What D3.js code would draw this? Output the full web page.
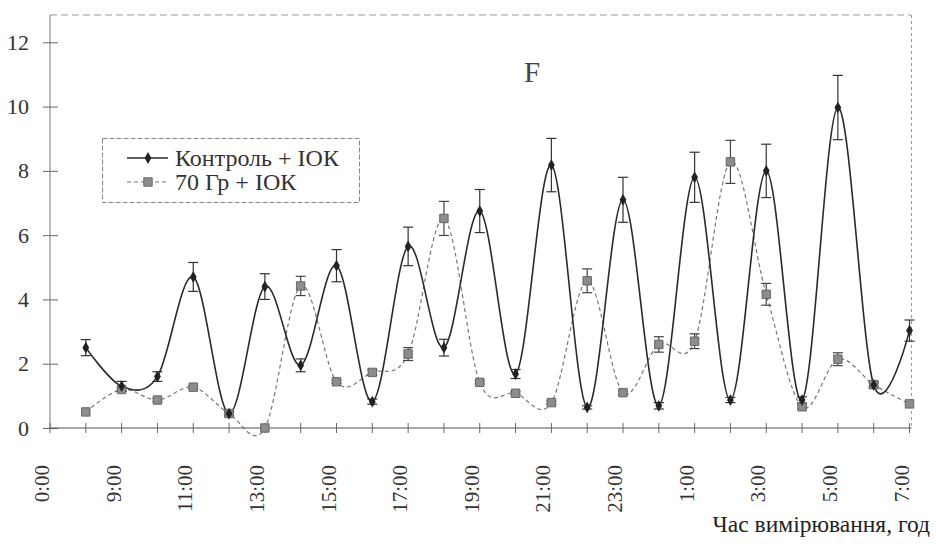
<!DOCTYPE html>
<html>
<head>
<meta charset="utf-8">
<script src="https://cdn.jsdelivr.net/npm/d3@7"></script>
<style>
  body { margin: 0; background: #fff; }
</style>
</head>
<body>
<svg width="936" height="549"></svg>
<script>
// category slots along the x axis (first slot is the empty "0:00" one)
var slots = ['0:00', '8:00', '9:00', '10:00', '11:00', '12:00', '13:00', '14:00', '15:00',
  '16:00', '17:00', '18:00', '19:00', '20:00', '21:00', '22:00', '23:00', '0:00 ',
  '1:00', '2:00', '3:00', '4:00', '5:00', '6:00', '7:00']
var hours = slots.slice(1)

// labels shown under every second slot
var tickLabels = ['0:00', '9:00', '11:00', '13:00', '15:00', '17:00', '19:00', '21:00',
  '23:00', '1:00', '3:00', '5:00', '7:00']

var yTicks = [0, 2, 4, 6, 8, 10, 12]

// Контроль + ІОК
var controlVals = [2.5, 1.3, 1.6, 4.7, 0.45, 4.4, 1.95, 5.05, 0.82, 5.65, 2.5, 6.75,
  1.68, 8.18, 0.64, 7.1, 0.69, 7.8, 0.87, 8.0, 0.87, 9.97, 1.34, 3.03]
var controlErr = [0.25, 0.15, 0.15, 0.45, 0.08, 0.4, 0.2, 0.5, 0.08, 0.6, 0.26, 0.67,
  0.14, 0.83, 0.05, 0.7, 0.1, 0.78, 0.08, 0.83, 0.1, 1.0, 0.1, 0.33]

// 70 Гр + ІОК
var irradVals = [0.5, 1.2, 0.87, 1.27, 0.45, 0, 4.42, 1.44, 1.73, 2.3, 6.52, 1.42,
  1.08, 0.79, 4.58, 1.1, 2.6, 2.7, 8.28, 4.16, 0.66, 2.14, 1.35, 0.75]
var irradErr = [0, 0.05, 0.05, 0.05, 0.05, 0, 0.3, 0.05, 0.08, 0.2, 0.53, 0.05,
  0.05, 0.05, 0.37, 0.05, 0.24, 0.23, 0.67, 0.34, 0.05, 0.2, 0.05, 0]

var seriesNames = ['Контроль + ІОК', '70 Гр + ІОК']

var serif = '"Liberation Serif", "Times New Roman", serif'

var svg = d3.select('svg').style('font-family', serif)

var x = d3.scalePoint().domain(slots).range([50, 909.5])
var y = d3.scaleLinear().domain([0, 12]).range([428, 42.3])
var yTop = 12.85

var series = [
  { name: seriesNames[0], vals: controlVals, err: controlErr },
  { name: seriesNames[1], vals: irradVals, err: irradErr }
]
series.forEach(function (s) {
  s.points = hours.map(function (h, i) { return { h: h, v: s.vals[i], e: s.err[i] } })
})

// plot frame (top and right, faint as in the scan)
svg.append('line')
  .attr('x1', x(slots[0])).attr('x2', x(slots[24]) + 2)
  .attr('y1', y(yTop)).attr('y2', y(yTop))
  .style('stroke', '#999').style('stroke-dasharray', '7,4')
svg.append('line')
  .attr('x1', x(slots[24]) + 2).attr('x2', x(slots[24]) + 2)
  .attr('y1', y(yTop)).attr('y2', y(0))
  .style('stroke', '#999').style('stroke-dasharray', '3,3')

// y axis
var yAxis = svg.append('g')
  .attr('transform', 'translate(' + x(slots[0]) + ',0)')
  .call(d3.axisLeft(y).tickValues(yTicks).tickSize(7).tickPadding(14))
yAxis.attr('font-family', null).attr('font-size', null)
yAxis.select('.domain').remove()
yAxis.append('line')
  .attr('y1', y(yTop)).attr('y2', y(0))
  .style('stroke', '#777')
yAxis.selectAll('.tick line').attr('x2', 8).attr('x1', -7).style('stroke', '#666')
yAxis.selectAll('.tick text')
  .style('font-family', serif)
  .style('font-size', '22px').style('fill', '#333')

// x axis
var xAxis = svg.append('g').attr('transform', 'translate(0,' + y(0) + ')')
xAxis.append('line')
  .attr('x1', x(slots[0])).attr('x2', x(slots[24]) + 2)
  .style('stroke', '#555').style('stroke-width', 1.2)
xAxis.selectAll('.xt')
  .data(slots)
  .enter()
  .append('line')
  .attr('x1', (d) => x(d)).attr('x2', (d) => x(d))
  .attr('y1', -5).attr('y2', 5)
  .style('stroke', '#666')
xAxis.selectAll('.xl')
  .data(tickLabels)
  .enter()
  .append('text')
  .attr('transform', (d, i) => 'translate(' + (x(slots[i * 2]) - 1) + ',37) rotate(-90)')
  .attr('text-anchor', 'end')
  .style('font-family', serif)
  .style('font-size', '21px').style('fill', '#333')
  .text((d) => d)

// axis title
svg.append('text')
  .attr('x', 930).attr('y', 532)
  .attr('text-anchor', 'end')
  .style('font-family', serif)
  .style('font-size', '23.5px').style('fill', '#222')
  .text('Час вимірювання, год')

// chart letter
svg.append('text')
  .attr('x', 532).attr('y', 82)
  .attr('text-anchor', 'middle')
  .style('font-family', serif)
  .style('font-size', '29px').style('fill', '#444')
  .text('F')

// smoothed lines
var line = d3.line()
  .x((d) => x(d.h))
  .y((d) => y(d.v))
  .curve(d3.curveCardinal.tension(0))

svg.append('path')
  .datum(series[1].points)
  .attr('d', line)
  .style('fill', 'none').style('stroke', '#777').style('stroke-width', 1.2)
  .style('stroke-dasharray', '4,3')

svg.append('path')
  .datum(series[0].points)
  .attr('d', line)
  .style('fill', 'none').style('stroke', '#2a2a2a').style('stroke-width', 1.6)

// error bars
function errorBars (s, cls, color) {
  var g = svg.append('g').attr('class', cls)
  var pts = s.points.filter((d) => d.e > 0)
  g.selectAll('line.v').data(pts).enter().append('line')
    .attr('x1', (d) => x(d.h)).attr('x2', (d) => x(d.h))
    .attr('y1', (d) => y(d.v - d.e)).attr('y2', (d) => y(d.v + d.e))
    .style('stroke', color).style('stroke-width', 1.2)
  ;[1, -1].forEach(function (sign) {
    g.selectAll('line.c' + sign).data(pts).enter().append('line')
      .attr('x1', (d) => x(d.h) - 5).attr('x2', (d) => x(d.h) + 5)
      .attr('y1', (d) => y(d.v + sign * d.e)).attr('y2', (d) => y(d.v + sign * d.e))
      .style('stroke', color).style('stroke-width', 1.2)
  })
}
errorBars(series[1], 'err-irrad', '#444')
errorBars(series[0], 'err-control', '#333')

// markers
var square = d3.symbol().type(d3.symbolSquare).size(72)
var diamond = d3.symbol().type(d3.symbolDiamond).size(40)

svg.selectAll('.sq')
  .data(series[1].points)
  .enter()
  .append('path')
  .attr('transform', (d) => 'translate(' + x(d.h) + ',' + y(d.v) + ')')
  .attr('d', square)
  .style('fill', '#8c8c8c').style('stroke', '#555').style('stroke-width', 0.8)

svg.selectAll('.dm')
  .data(series[0].points)
  .enter()
  .append('path')
  .attr('transform', (d) => 'translate(' + x(d.h) + ',' + y(d.v) + ')')
  .attr('d', diamond)
  .style('fill', '#222')

// legend
var legend = svg.append('g')
legend.append('rect')
  .attr('x', 102.5).attr('y', 138.5).attr('width', 257).attr('height', 64)
  .style('fill', '#fff').style('stroke', '#888').style('stroke-dasharray', '5,2')

var legendRows = [
  { y: 158, dash: null, color: '#2a2a2a', w: 1.6, sym: diamond, fill: '#222', stroke: 'none' },
  { y: 182, dash: '4,3', color: '#777', w: 1.2, sym: square, fill: '#8c8c8c', stroke: '#555' }
]
legendRows.forEach(function (r, i) {
  legend.append('line')
    .attr('x1', 127).attr('x2', 168).attr('y1', r.y).attr('y2', r.y)
    .style('stroke', r.color).style('stroke-width', r.w)
    .style('stroke-dasharray', r.dash)
  legend.append('path')
    .attr('transform', 'translate(148,' + r.y + ')')
    .attr('d', r.sym)
    .style('fill', r.fill).style('stroke', r.stroke).style('stroke-width', 0.8)
  legend.append('text')
    .attr('x', 175).attr('y', r.y + 8)
    .style('font-family', serif)
    .style('font-size', '24px').style('fill', '#333')
    .text(seriesNames[i])
})
</script>
</body>
</html>
